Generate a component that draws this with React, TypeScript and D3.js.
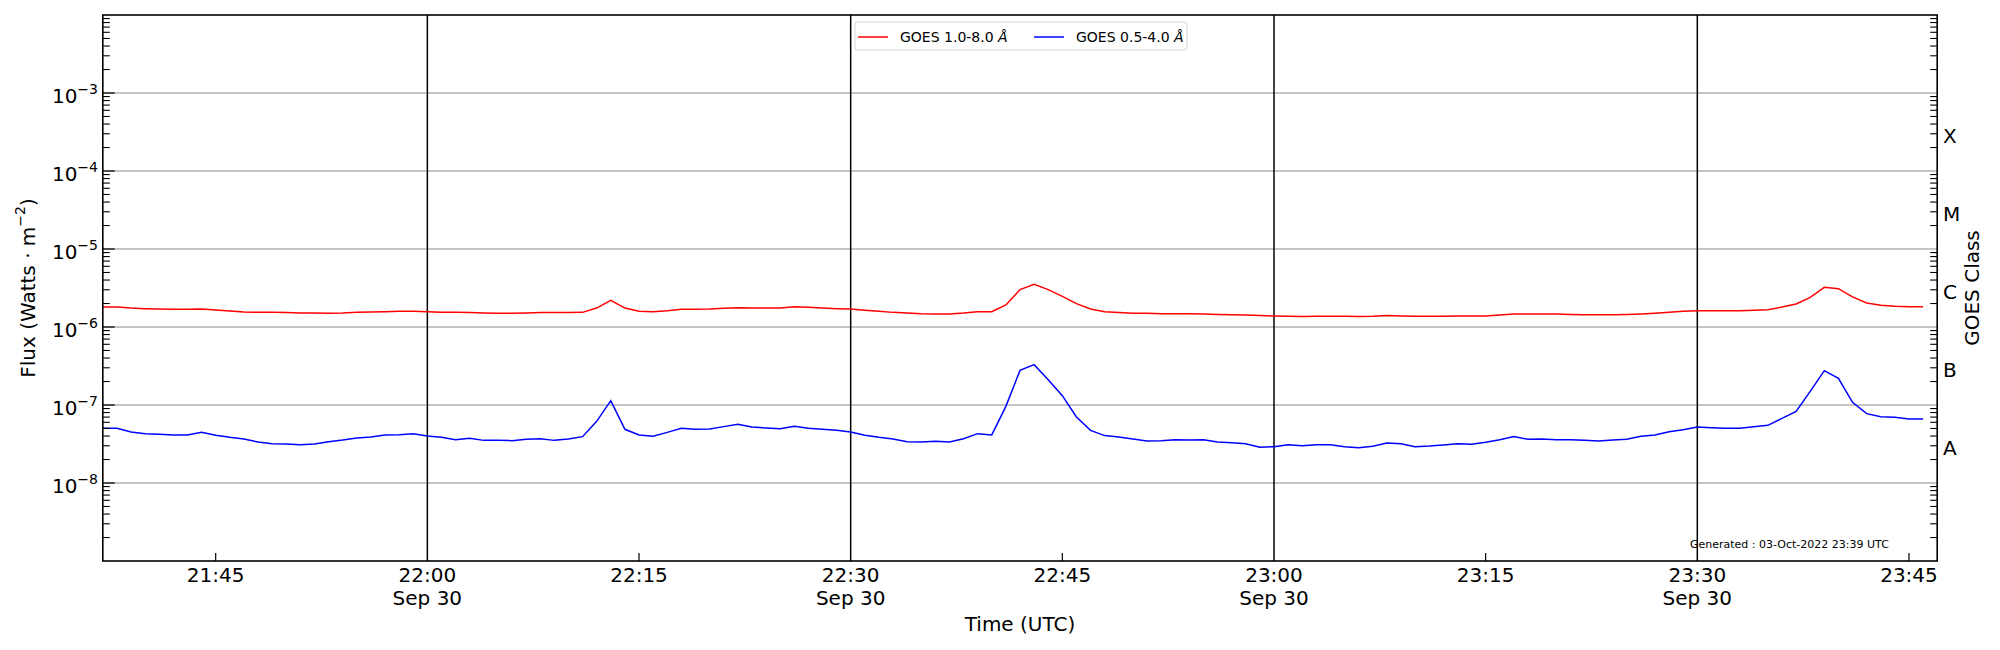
import * as d3 from 'd3';

// GOES XRS, 1-minute cadence starting 2022-09-30 21:37 UTC
const START = Date.UTC(2022, 8, 30, 21, 37);
const CADENCE_MS = 60 * 1000;

// 1.0-8.0 A channel, in units of 1e-6 W/m^2
const LONG_FLUX = [
  1.80, 1.80, 1.75, 1.72, 1.70, 1.69, 1.69, 1.70, 1.65, 1.60,
  1.56, 1.54, 1.54, 1.53, 1.51, 1.51, 1.50, 1.51, 1.54, 1.56,
  1.57, 1.59, 1.59, 1.57, 1.54, 1.54, 1.53, 1.51, 1.50, 1.50,
  1.51, 1.53, 1.53, 1.53, 1.54, 1.75, 2.20, 1.75, 1.59, 1.57,
  1.62, 1.69, 1.69, 1.70, 1.74, 1.77, 1.75, 1.75, 1.75, 1.82,
  1.79, 1.75, 1.72, 1.70, 1.64, 1.59, 1.54, 1.51, 1.48, 1.47,
  1.47, 1.51, 1.57, 1.57, 1.92, 3.01, 3.52, 3.01, 2.47, 1.99,
  1.70, 1.57, 1.53, 1.50, 1.50, 1.48, 1.48, 1.48, 1.47, 1.45,
  1.44, 1.43, 1.40, 1.38, 1.37, 1.36, 1.37, 1.37, 1.37, 1.36,
  1.37, 1.40, 1.38, 1.37, 1.37, 1.37, 1.38, 1.38, 1.38, 1.43,
  1.47, 1.47, 1.47, 1.47, 1.45, 1.44, 1.44, 1.44, 1.45, 1.47,
  1.50, 1.54, 1.59, 1.62, 1.62, 1.62, 1.62, 1.64, 1.67, 1.80,
  1.97, 2.40, 3.23, 3.10, 2.43, 2.03, 1.90, 1.84, 1.82, 1.82,
];
const LONG_UNIT = 1e-6;

// 0.5-4.0 A channel, in units of 1e-8 W/m^2
const SHORT_FLUX = [
  5.02, 5.02, 4.51, 4.29, 4.21, 4.13, 4.13, 4.46, 4.09, 3.85,
  3.67, 3.35, 3.19, 3.16, 3.10, 3.16, 3.39, 3.56, 3.78, 3.89,
  4.13, 4.17, 4.29, 4.01, 3.85, 3.59, 3.74, 3.52, 3.52, 3.49,
  3.63, 3.70, 3.52, 3.67, 3.93, 6.17, 11.37, 4.88, 4.13, 3.97,
  4.46, 5.02, 4.88, 4.92, 5.28, 5.65, 5.22, 5.07, 4.97, 5.33,
  5.02, 4.88, 4.73, 4.51, 4.09, 3.85, 3.67, 3.39, 3.35, 3.42,
  3.35, 3.70, 4.29, 4.13, 9.61, 27.8, 32.9, 21.1, 13.17, 7.02,
  4.73, 4.05, 3.89, 3.67, 3.46, 3.49, 3.59, 3.56, 3.59, 3.35,
  3.29, 3.19, 2.87, 2.92, 3.10, 3.01, 3.10, 3.10, 2.92, 2.84,
  2.95, 3.26, 3.19, 2.92, 2.98, 3.07, 3.19, 3.13, 3.32, 3.59,
  3.93, 3.63, 3.67, 3.59, 3.59, 3.52, 3.46, 3.56, 3.63, 3.97,
  4.13, 4.55, 4.83, 5.22, 5.12, 5.02, 5.02, 5.28, 5.49, 6.75,
  8.29, 14.97, 27.6, 22.0, 10.82, 7.74, 7.09, 6.95, 6.61, 6.61,
];
const SHORT_UNIT = 1e-8;

const SERIES = [
  { label: 'GOES 1.0-8.0 ', values: LONG_FLUX, unit: LONG_UNIT, color: '#ff0000' },
  { label: 'GOES 0.5-4.0 ', values: SHORT_FLUX, unit: SHORT_UNIT, color: '#0000ff' },
];

const Y_DECADES = [-8, -7, -6, -5, -4, -3];
const GOES_CLASSES = ['A', 'B', 'C', 'M', 'X'];
const CLASS_CENTERS = [-7.5, -6.5, -5.5, -4.5, -3.5];

const X_DOMAIN = [new Date(Date.UTC(2022, 8, 30, 21, 37)), new Date(Date.UTC(2022, 8, 30, 23, 47))];
const Y_DOMAIN = [1e-9, 1e-2];
const DATE_LABEL = 'Sep 30';
const GENERATED = 'Generated : 03-Oct-2022 23:39 UTC';

const W = 2000;
const H = 650;
const PLOT = { left: 102.8, right: 1937.2, top: 15, bottom: 561 };
const FONT = 'DejaVu Sans, sans-serif';

export default function App() {
  const x = d3.scaleUtc().domain(X_DOMAIN).range([PLOT.left, PLOT.right]);
  const y = d3.scaleLog().domain(Y_DOMAIN).range([PLOT.bottom, PLOT.top]);

  const xTicks = x.ticks(d3.utcMinute.every(15)!);
  const fmt = d3.utcFormat('%H:%M');

  const minorTicks: number[] = [];
  for (let d = -9; d < -2; d++) {
    for (let m = 2; m <= 9; m++) minorTicks.push(m * Math.pow(10, d));
  }

  const lines = SERIES.map(s => {
    const pts = s.values.map((v, i) => [START + i * CADENCE_MS, v * s.unit] as [number, number]);
    const gen = d3.line<[number, number]>().x(d => x(new Date(d[0]))).y(d => y(d[1]));
    return { ...s, path: gen(pts) };
  });

  const midY = (PLOT.top + PLOT.bottom) / 2;
  const midX = (PLOT.left + PLOT.right) / 2;

  return (
    <svg width={W} height={H} style={{ position: 'absolute', left: 0, top: 0, background: '#fff' }} fontFamily={FONT}>
      {/* horizontal grid */}
      {Y_DECADES.map(d => (
        <line key={'g' + d} x1={PLOT.left} x2={PLOT.right} y1={y(Math.pow(10, d))} y2={y(Math.pow(10, d))}
          stroke="#b0b0b0" strokeWidth={1.3} />
      ))}

      {/* time ticks: full lines on the half hours, short ticks otherwise */}
      {xTicks.map(t => {
        const px = x(t);
        const major = t.getUTCMinutes() % 30 === 0;
        return (
          <g key={+t}>
            {major
              ? <line x1={px} x2={px} y1={PLOT.top} y2={PLOT.bottom} stroke="#000" strokeWidth={1.5} />
              : <line x1={px} x2={px} y1={PLOT.bottom} y2={PLOT.bottom - 8} stroke="#000" strokeWidth={1.2} />}
            <text x={px} y={582} textAnchor="middle" fontSize={20}>{fmt(t)}</text>
            {major && <text x={px} y={605} textAnchor="middle" fontSize={20}>{DATE_LABEL}</text>}
          </g>
        );
      })}

      {/* data */}
      {lines.map(l => (
        <path key={l.label} d={l.path ?? ''} fill="none" stroke={l.color} strokeWidth={1.5} />
      ))}

      {/* left axis ticks */}
      {minorTicks.map(v => (
        <g key={'m' + v}>
          <line x1={PLOT.left} x2={PLOT.left + 7} y1={y(v)} y2={y(v)} stroke="#000" strokeWidth={1.1} />
          <line x1={PLOT.right} x2={PLOT.right - 7} y1={y(v)} y2={y(v)} stroke="#000" strokeWidth={1.1} />
        </g>
      ))}
      {Y_DECADES.map(d => (
        <g key={'t' + d}>
          <line x1={PLOT.left} x2={PLOT.left + 12} y1={y(Math.pow(10, d))} y2={y(Math.pow(10, d))} stroke="#000" strokeWidth={1.2} />
          <text x={98} y={y(Math.pow(10, d)) + 9.7} textAnchor="end" fontSize={20}>
            10<tspan dy={-9} fontSize={14}>{'\u2212' + Math.abs(d)}</tspan>
          </text>
        </g>
      ))}

      {/* GOES class labels */}
      {GOES_CLASSES.map((c, i) => (
        <text key={c} x={1943} y={y(Math.pow(10, CLASS_CENTERS[i])) + 3.5} dominantBaseline="central" fontSize={20}>{c}</text>
      ))}

      {/* frame */}
      <rect x={PLOT.left} y={PLOT.top} width={PLOT.right - PLOT.left} height={PLOT.bottom - PLOT.top}
        fill="none" stroke="#000" strokeWidth={1.6} />

      {/* axis labels */}
      <text transform={`translate(28,${midY}) rotate(-90)`} textAnchor="middle" dominantBaseline="central" fontSize={20}>
        Flux (Watts · m<tspan dy={-8} fontSize={14}>−2</tspan><tspan dy={8}>)</tspan>
      </text>
      <text transform={`translate(1972,${midY}) rotate(-90)`} textAnchor="middle" dominantBaseline="central" fontSize={20}>
        GOES Class
      </text>
      <text x={midX} y={631} textAnchor="middle" fontSize={20}>Time (UTC)</text>

      <text x={1690} y={548} fontSize={11}>{GENERATED}</text>

      {/* legend */}
      <g>
        <rect x={855} y={22} width={332} height={28} rx={3} fill="#fff" fillOpacity={0.8} stroke="#d5d5d5" strokeWidth={1} />
        {lines.map((l, i) => {
          const lx = 858 + i * 176;
          return (
            <g key={'lg' + l.label}>
              <line x1={lx} x2={lx + 30} y1={37} y2={37} stroke={l.color} strokeWidth={1.5} />
              <text x={lx + 42} y={42} fontSize={14}>
                {l.label}<tspan fontStyle="italic">Å</tspan>
              </text>
            </g>
          );
        })}
      </g>
    </svg>
  );
}
